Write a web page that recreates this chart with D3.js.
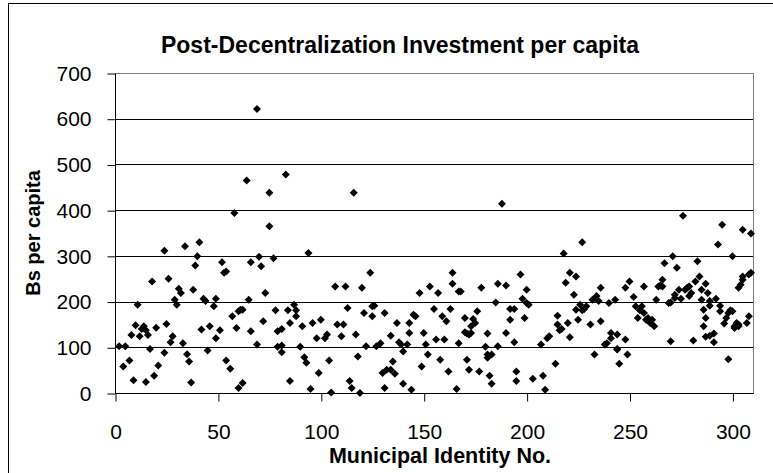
<!DOCTYPE html>
<html>
<head>
<meta charset="utf-8">
<script src="https://cdn.jsdelivr.net/npm/d3@7"></script>
<style>
  html, body { margin: 0; padding: 0; background: #fff; }
  svg { display: block; }
  text { font-family: "Liberation Sans", Arial, sans-serif; }
</style>
</head>
<body>
<script>
// ---- data ----
const municipalIds = [
  2,5,4,7,9,8,10,11,12,13,14,15,16,17,15,18,19,20,21,24,24,25,26,27,28,29,30,31,32,33,34,35,36,37,38,39,
  41,40,43,44,42,45,46,48,49,49,51,52,53,54,54,56,57,58,59,60,61,62,60,62,64,65,66,66,69,69,70,71,72,73,75,75,77,78,79,79,
  83,94,116,81,81,81,84,85,85,87,88,88,91,90,92,93,96,98,100,99,95,102,103,104,105,107,108,110,111,112,113,114,115,117,118,119,120,121,
  124,122,125,126,125,127,129,130,131,131,132,134,135,136,134,137,138,139,140,142,140,143,143,144,145,146,148,149,150,151,152,153,155,156,157,158,159,160,161,162,
  164,163,164,167,168,166,167,170,170,171,172,173,173,174,176,175,171,172,177,178,180,181,181,181,182,183,183,186,185,186,188,190,190,192,192,194,194,195,195,197,198,200,200,199,201,203,
  208,209,207,210,211,214,215,215,216,217,218,219,220,221,224,221,223,224,225,226,227,227,228,229,231,232,233,234,235,236,236,238,239,240,241,241,243,244,244,245,
  244,248,248,249,250,252,253,254,255,256,257,257,258,259,260,261,262,263,264,265,266,266,267,270,271,269,270,272,272,273,274,275,276,277,278,279,279,280,281,282,283,284,285,285,286,
  287,288,286,287,289,289,287,289,291,291,292,293,294,295,294,296,297,298,298,300,299,300,301,301,302,303,303,303,304,305,305,305,307,308,309,309,308
];
const investmentPerCapita = [
  102,102,58,71,28,127,148,193,124,140,146,137,127,96,24,244,38,143,60,311,88,151,250,111,124,204,193,228,219,109,321,85,69,23,226,279,
  330,299,206,201,139,93,146,190,206,120,137,286,263,266,71,53,168,394,142,179,182,182,11,22,465,204,286,135,106,621,298,277,157,219,438,365,295,181,135,101,
  478,306,438,140,104,89,181,26,153,193,181,168,146,101,78,66,153,120,160,44,9,120,128,71,1,233,150,124,150,233,186,26,11,128,80,0,230,175,
  263,102,190,191,168,102,109,44,175,11,51,51,69,42,125,153,111,106,91,106,20,131,153,7,171,168,219,58,131,106,84,233,184,117,219,73,168,117,157,47,
  263,184,239,222,222,9,109,164,133,130,128,131,146,162,179,153,73,51,47,230,101,130,77,84,38,20,84,102,198,239,414,235,131,160,184,184,111,47,26,259,206,226,197,164,193,31,
  38,7,106,120,124,64,169,150,137,140,305,241,153,263,255,122,215,182,160,193,330,181,184,190,150,204,84,212,201,230,157,106,109,197,131,120,204,95,128,64,
  96,230,117,84,244,210,190,164,181,190,233,175,160,164,153,160,146,204,233,235,233,248,284,113,299,197,198,208,215,274,226,206,388,226,230,233,212,219,115,244,288,255,226,204,146,
  239,219,182,164,191,201,123,125,130,111,206,325,191,368,179,152,164,74,175,299,181,179,146,142,153,146,150,230,237,248,357,255,153,259,263,349,168
];
const xTickValues = [0, 50, 100, 150, 200, 250, 300];
const yTickValues = [0, 100, 200, 300, 400, 500, 600, 700];
const chartTitle = "Post-Decentralization Investment per capita";
const xTitle = "Municipal Identity No.";
const yTitle = "Bs per capita";

// ---- layout ----
const W = 773, H = 473;
const plot = { left: 115, right: 753, top: 73, bottom: 393 };
const FONT = '"Liberation Sans", Arial, sans-serif';

const svg = d3.select("body").append("svg").attr("width", W).attr("height", H);

// chart frame
svg.append("rect").attr("x", 8.5).attr("y", 3.5).attr("width", 800).attr("height", 600)
  .attr("fill", "#fff").attr("stroke", "#000").attr("stroke-width", 1);

const x = d3.scaleLinear().domain([0, 310]).range([plot.left, plot.right]);
const y = d3.scaleLinear().domain([0, 700]).range([plot.bottom, plot.top]);

// plot area border
svg.append("rect").attr("x", plot.left + 0.5).attr("y", plot.top + 0.5)
  .attr("width", plot.right - plot.left).attr("height", plot.bottom - plot.top)
  .attr("fill", "none").attr("stroke", "#808080");

// gridlines
svg.append("g").selectAll("line").data(yTickValues.filter(v => v > 0 && v < 700)).join("line")
  .attr("x1", plot.left).attr("x2", plot.right)
  .attr("y1", d => Math.round(y(d)) + 0.5).attr("y2", d => Math.round(y(d)) + 0.5)
  .attr("stroke", "#000").attr("stroke-width", 1);

// axes
const yAxis = d3.axisLeft(y).tickValues(yTickValues).tickSize(8).tickPadding(16).tickFormat(d3.format("d"));
const gy = svg.append("g").attr("transform", `translate(${plot.left + 0.5},0.5)`).call(yAxis);
gy.select(".domain").attr("stroke", "#000").attr("d", `M0,${plot.top}V${plot.bottom}`);
gy.selectAll("text").attr("font-size", 21).attr("fill", "#000").style("font-family", FONT);
gy.selectAll(".tick line").attr("stroke", "#000");

const xAxis = d3.axisBottom(x).tickValues(xTickValues).tickSize(8).tickPadding(23).tickFormat(d3.format("d"));
const gx = svg.append("g").attr("transform", `translate(0.5,${plot.bottom + 0.5})`).call(xAxis);
gx.select(".domain").attr("stroke", "#000").attr("d", `M${plot.left},0H${plot.right}`);
gx.selectAll("text").attr("font-size", 21).attr("fill", "#000").style("font-family", FONT);
gx.selectAll(".tick line").attr("stroke", "#000");

// points
const pts = municipalIds.map((id, i) => ({ id, v: investmentPerCapita[i] }));
const r = 4;
svg.append("g").selectAll("path").data(pts).join("path")
  .attr("d", `M0,${-r}L${r},0L0,${r}L${-r},0Z`)
  .attr("transform", d => `translate(${x(d.id)},${y(d.v)})`)
  .attr("fill", "#000");

// titles
svg.append("text").attr("x", 400).attr("y", 53)
  .attr("text-anchor", "middle").attr("font-size", 23).attr("font-weight", "bold").text(chartTitle);
svg.append("text").attr("x", 440).attr("y", 463)
  .attr("text-anchor", "middle").attr("font-size", 21.5).attr("font-weight", "bold").text(xTitle);
svg.append("text").attr("transform", `translate(40,${(plot.top + plot.bottom) / 2}) rotate(-90)`)
  .attr("text-anchor", "middle").attr("font-size", 20).attr("font-weight", "bold").text(yTitle);
</script>
</body>
</html>
